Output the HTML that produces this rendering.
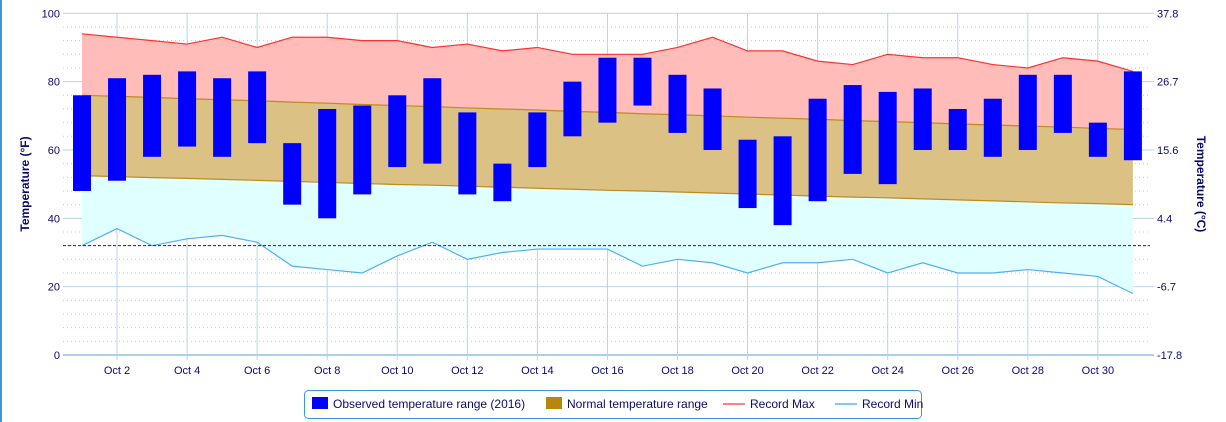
<!DOCTYPE html>
<html><head><meta charset="utf-8"><style>
html,body{margin:0;padding:0;background:#fff;}
svg{display:block;font-family:"Liberation Sans",sans-serif;}
</style></head><body>
<svg id="chart" width="1226" height="422" viewBox="0 0 1226 422">
<rect x="0" y="0" width="2" height="422" fill="#3a9ad9"/>
<g id="grid"></g>
<g id="areas"></g>
<g id="bars"></g>
<g id="axes"></g>
<text x="0" y="0" transform="translate(29,184) rotate(-90)" text-anchor="middle" font-size="12" font-weight="bold" fill="#0a0a6e">Temperature (°F)</text>
<text x="0" y="0" transform="translate(1197,184) rotate(90)" text-anchor="middle" font-size="12" font-weight="bold" fill="#0a0a6e">Temperature (°C)</text>
<g>
<rect x="304.5" y="390.5" width="617" height="28" rx="4" fill="#fff" stroke="#3a9ad9"/>
<rect x="312" y="397" width="16" height="12" fill="#0000ff"/>
<text x="333" y="408" font-size="12" fill="#0a0a6e">Observed temperature range (2016)</text>
<rect x="546" y="397" width="16" height="12" fill="#b8860b"/>
<text x="567" y="408" font-size="12" fill="#0a0a6e">Normal temperature range</text>
<line x1="723" y1="404" x2="745" y2="404" stroke="#ff8080" stroke-width="2"/>
<text x="750" y="408" font-size="12" fill="#0a0a6e">Record Max</text>
<line x1="835" y1="404" x2="857" y2="404" stroke="#80c8ff" stroke-width="2"/>
<text x="862" y="408" font-size="12" fill="#0a0a6e">Record Min</text>
</g>
</svg>
<script>
const days = [1,2,3,4,5,6,7,8,9,10,11,12,13,14,15,16,17,18,19,20,21,22,23,24,25,26,27,28,29,30,31];
const obsLow = [48,51,58,61,58,62,44,40,47,55,56,47,45,55,64,68,73,65,60,43,38,45,53,50,60,60,58,60,65,58,57];
const obsHigh = [76,81,82,83,81,83,62,72,73,76,81,71,56,71,80,87,87,82,78,63,64,75,79,77,78,72,75,82,82,68,83];
const recordMax = [94,93,92,91,93,90,93,93,92,92,90,91,89,90,88,88,88,90,93,89,89,86,85,88,87,87,85,84,87,86,83];
const recordMin = [32,37,32,34,35,33,26,25,24,29,33,28,30,31,31,31,26,28,27,24,27,27,28,24,27,24,24,25,24,23,18];
const normalHigh = [76,75.7,75.4,75.0,74.7,74.4,74.0,73.7,73.3,73.0,72.7,72.3,72.0,71.7,71.3,71.0,70.6,70.3,70.0,69.6,69.3,69.0,68.6,68.3,68.0,67.6,67.3,67.0,66.7,66.3,66.0];
const normalLow = [52.5,52.2,51.9,51.7,51.4,51.1,50.8,50.5,50.2,49.9,49.7,49.4,49.1,48.8,48.5,48.2,48.0,47.7,47.4,47.1,46.8,46.5,46.2,46.0,45.7,45.4,45.1,44.8,44.5,44.3,44.0];
const leftTicks = [0,20,40,60,80,100];
const rightTicks = ["-17.8","-6.7","4.4","15.6","26.7","37.8"];
const freezing = 32;

const NS="http://www.w3.org/2000/svg";
const X0=63, X1=1150;
const xs = d => 82 + (d-1)*35.03;
const ys = v => 355 - v*3.417;
function mk(tag, attrs, parent){const e=document.createElementNS(NS,tag);for(const k in attrs)e.setAttribute(k,attrs[k]);parent.appendChild(e);return e;}
const grid=document.getElementById('grid'), areas=document.getElementById('areas'), bars=document.getElementById('bars'), axes=document.getElementById('axes');

for(let v=4; v<100; v+=4){ if(v%20===0) continue;
  const l=mk('line',{x1:X0,x2:X1,y1:ys(v),y2:ys(v),stroke:'#c8c8c8','stroke-dasharray':'1,3'},grid);
  
  
}
leftTicks.forEach((v,i)=>{
  const l=mk('line',{x1:X0,x2:X1+4,y1:ys(v),y2:ys(v),stroke:v===0?'#5aa0d0':'#b8d4ea'},grid);
  
  
  const t=mk('text',{x:60,y:ys(v)+4,'text-anchor':'end','font-size':'11',fill:'#0a0a6e'},axes);
  t.textContent=v;
  
  
  const r=mk('text',{x:1157,y:ys(v)+4,'font-size':'11',fill:'#0a0a6e'},axes);
  r.textContent=rightTicks[i];
  
  
});
days.forEach(d=>{ if(d%2) return;
  const l=mk('line',{x1:xs(d),x2:xs(d),y1:ys(100),y2:ys(0)+5,stroke:'#b8d4ea'},grid);
  
  
  const t=mk('text',{x:xs(d),y:374,'text-anchor':'middle','font-size':'11',fill:'#0a0a6e'},axes);
  t.textContent='Oct '+d;
  
  
});
function band(top,bot,fill,name){
  let p='M'+days.map((d,i)=>xs(d)+','+ys(top[i])).join('L');
  p+='L'+days.slice().reverse().map((d,j)=>xs(d)+','+ys(bot[days.length-1-j])).join('L')+'Z';
  const e=mk('path',{d:p,fill:fill},areas);
  
  
}
band(recordMax,normalHigh,'#ffbcb8','record-max-band');
band(normalLow,recordMin,'#e0ffff','record-min-band');
band(normalHigh,normalLow,'#dbc184','normal-range-band');
function line(arr,col,name){
  const e=mk('polyline',{points:days.map((d,i)=>xs(d)+','+ys(arr[i])).join(' '),fill:'none',stroke:col,'stroke-width':'1.2'},areas);
  
  
}
line(normalHigh,'#c08a20','normal-high-line');
line(normalLow,'#c08a20','normal-low-line');
line(recordMax,'#ff3030','record-max-line');
line(recordMin,'#50b0f0','record-min-line');
const fz=mk('line',{x1:X0,x2:X1,y1:ys(freezing),y2:ys(freezing),stroke:'#1010e0','stroke-dasharray':'3,2'},areas);


days.forEach((d,i)=>{
  const b=mk('rect',{x:xs(d)-9,y:ys(obsHigh[i]),width:18,height:ys(obsLow[i])-ys(obsHigh[i]),fill:'#0000ff'},bars);
  
  
});
</script>
</body></html>
